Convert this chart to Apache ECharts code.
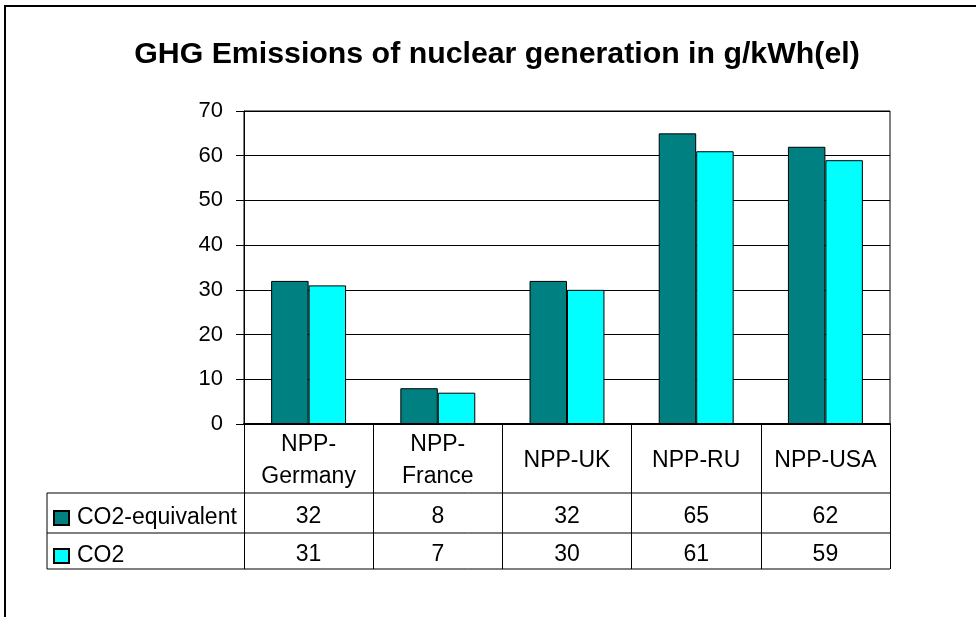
<!DOCTYPE html>
<html>
<head>
<meta charset="utf-8">
<script src="https://cdn.jsdelivr.net/npm/echarts@6/dist/echarts.min.js"></script>
<style>
  html, body { margin: 0; padding: 0; background: #fff; }
  #chart { width: 976px; height: 617px; }
</style>
</head>
<body>
<div id="chart"></div>
<script>
// data
var categories = ["NPP-\nGermany", "NPP-\nFrance", "NPP-UK", "NPP-RU", "NPP-USA"];
var co2eq = [32, 8, 32, 65, 62];
var co2 = [31, 7, 30, 61, 59];
var seriesNames = ["CO2-equivalent", "CO2"];
var yTicks = { min: 0, max: 70, interval: 10 };

// layout
var gridLeft = 244, gridRight = 890, gridTop = 111, gridBottom = 424;
var tableLeft = 47, row1Bottom = 493, row2Bottom = 533, row3Bottom = 569;
var font = "'Liberation Sans', Arial, sans-serif";

var chart = echarts.init(document.getElementById("chart"));

function tableLine(x1, y1, x2, y2) {
  return {
    type: "line",
    z: 10,
    shape: { x1: x1, y1: y1, x2: x2, y2: y2 },
    style: { stroke: "#000", lineWidth: 1 },
    silent: true,
  };
}

function legendRow(name, top) {
  return {
    data: [name],
    left: 48,
    top: top,
    itemWidth: 15,
    itemHeight: 14,
    icon: "rect",
    textStyle: { fontFamily: font, fontSize: 23, color: "#000", lineHeight: 24, padding: [0, 0, 0, 3] },
  };
}

function valueAxis(values, offset) {
  return {
    type: "category",
    position: "bottom",
    data: values.map(String),
    offset: offset,
    axisLine: { show: false },
    axisTick: { show: false },
    axisLabel: { fontFamily: font, fontSize: 23, color: "#000", verticalAlign: "middle", margin: 0, interval: 0 },
  };
}

var option = {
  animation: false,
  backgroundColor: "#fff",
  color: ["#008080", "#00ffff"],
  title: {
    text: "GHG Emissions of nuclear generation in g/kWh(el)",
    left: 492,
    textAlign: "center",
    top: 35,
    textStyle: { fontFamily: font, fontSize: 30.3, fontWeight: "bold", color: "#000" },
  },
  grid: {
    left: gridLeft,
    right: 976 - gridRight,
    top: gridTop,
    bottom: 617 - gridBottom,
    show: true,
    borderColor: "#000",
    borderWidth: 1,
    backgroundColor: "#fff",
  },
  legend: [legendRow(seriesNames[0], 501), legendRow(seriesNames[1], 539)],
  xAxis: [
    {
      type: "category",
      data: categories,
      axisLine: { lineStyle: { color: "#000", width: 2 } },
      axisTick: { show: true, length: row3Bottom - gridBottom, lineStyle: { color: "#000", width: 1 } },
      axisLabel: {
        fontFamily: font,
        fontSize: 23,
        color: "#000",
        lineHeight: 32,
        verticalAlign: "middle",
        margin: 37,
        interval: 0,
      },
    },
    valueAxis(co2eq, 93),
    valueAxis(co2, 131),
  ],
  yAxis: {
    type: "value",
    min: yTicks.min,
    max: yTicks.max,
    interval: yTicks.interval,
    axisLine: { show: true, lineStyle: { color: "#000", width: 1 } },
    axisTick: { show: true, length: 8, lineStyle: { color: "#000" } },
    axisLabel: { fontFamily: font, fontSize: 22, color: "#000", margin: 21 },
    splitLine: { show: true, lineStyle: { color: "#000", width: 1 } },
  },
  series: [
    {
      name: seriesNames[0],
      type: "bar",
      data: co2eq,
      barGap: "0%",
      barCategoryGap: "42%",
      itemStyle: { borderColor: "#000", borderWidth: 1 },
    },
    {
      name: seriesNames[1],
      type: "bar",
      data: co2,
      barGap: "0%",
      barCategoryGap: "42%",
      itemStyle: { borderColor: "#000", borderWidth: 1 },
    },
  ],
  graphic: [
    // outer frame (only left and top edges are inside the picture)
    {
      type: "rect",
      shape: { x: 5, y: 6, width: 1200, height: 1200 },
      style: { fill: "none", stroke: "#000", lineWidth: 2 },
      silent: true,
    },
    // data table rules
    tableLine(tableLeft, row1Bottom, gridRight, row1Bottom),
    tableLine(tableLeft, row2Bottom, gridRight, row2Bottom),
    tableLine(tableLeft, row3Bottom, gridRight, row3Bottom),
    tableLine(tableLeft, row1Bottom, tableLeft, row3Bottom),
  ],
};

chart.setOption(option);
</script>
</body>
</html>
